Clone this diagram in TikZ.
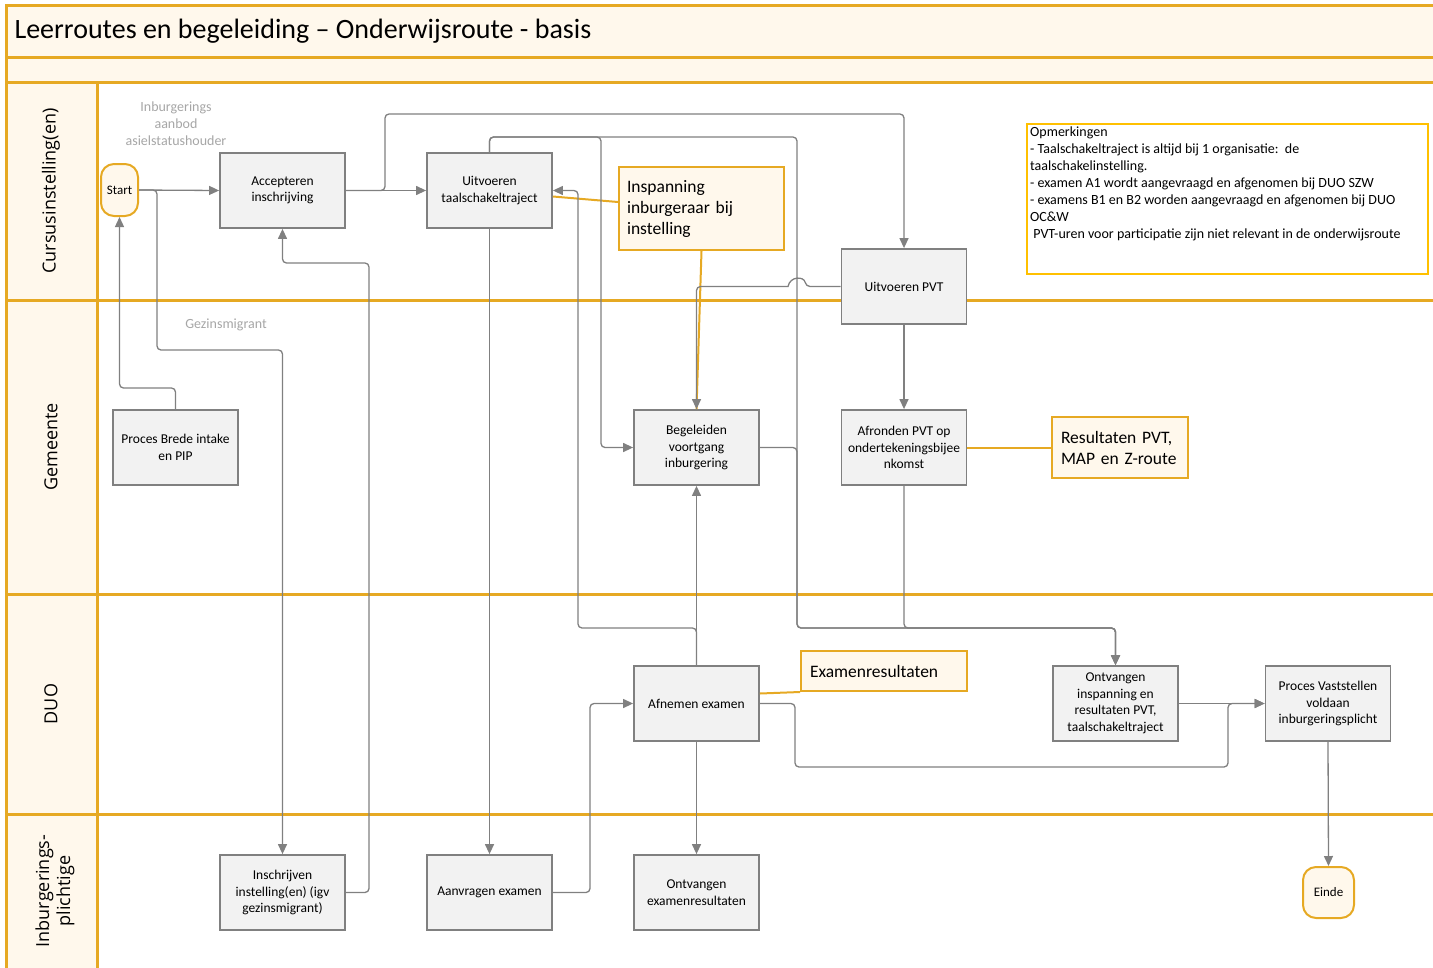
\documentclass[tikz,border=0pt]{standalone}
\usepackage{fontspec}
\setmainfont{Carlito}
\newfontfamily\lanefont{Open Sans}
\usetikzlibrary{arrows.meta,positioning,calc}

\definecolor{laneorange}{HTML}{E6A923}
\definecolor{lanecream}{HTML}{FFF8EC}
\definecolor{boxgray}{HTML}{F2F2F2}
\definecolor{edgegray}{HTML}{808080}
\definecolor{notegold}{HTML}{FFC000}
\definecolor{labelgray}{HTML}{A6A6A6}

\begin{document}
\begin{tikzpicture}[x=1pt,y=-1pt,
    task/.style={draw=edgegray, line width=1.8pt, fill=boxgray, minimum width=125pt,
      minimum height=75pt, align=center, inner sep=2pt, font=\fontsize{13.5}{16.5}\selectfont},
    term/.style={draw=laneorange, line width=2pt, fill=lanecream, rounded corners=13pt,
      minimum height=52pt, inner sep=1pt, font=\fontsize{13}{15}\selectfont},
    annot/.style={draw=laneorange, line width=2pt, fill=lanecream, align=left,
      inner xsep=8pt, inner ysep=0pt, font=\fontsize{17.5}{21}\selectfont},
    flow/.style={draw=edgegray, line width=1.3pt, rounded corners=4pt,
      -{Triangle[length=10pt,width=9pt]}},
    link/.style={draw=laneorange, line width=2pt},
    tag/.style={text=labelgray, align=center, font=\fontsize{14}{17}\selectfont},
    lanelabel/.style={rotate=90, align=center, font=\lanefont\fontsize{18}{21}\selectfont}]
    \useasboundingbox (0,0) rectangle (1433,967);
    \clip (0,0) rectangle (1433,967);

    % pool and lanes
    \fill[lanecream] (6,5) rectangle (1440,82);
    \fill[lanecream] (6,82) rectangle (97,970);
    \draw[laneorange, line width=3pt] (1440,5) -- (6,5) -- (6,970);
    \draw[laneorange, line width=3pt] (97,82) -- (97,970);
    \foreach \y in {57,82,300,594,814}
        \draw[laneorange, line width=3pt] (6,\y) -- (1440,\y);
    \node[anchor=west, font=\fontsize{28}{32}\selectfont] (title) at (11,31)
        {Leerroutes en begeleiding -- Onderwijsroute - basis};
    \node[lanelabel] (lcurs) at (51,191) {Cursusinstelling(en)};
    \node[lanelabel] (lgem) at (51,447) {Gemeente};
    \node[lanelabel] (lduo) at (51,704) {DUO};
    \node[lanelabel] (lplicht) at (55,891) {Inburgerings-\\plichtige};

    % Cursusinstelling(en)
    \node[term, minimum width=37pt] (start) at (119.5,190) {Start};
    \node[task] (accept) at (282.5,190.5) {Accepteren\\inschrijving};
    \node[task] (taal) at (489.5,190.5) {Uitvoeren\\taalschakeltraject};
    \node[annot, text width=149pt, minimum height=83pt] (inspan) at (701.5,208.5)
        {Inspanning\\inburgeraar bij\\instelling};
    \node[task] (pvt) at (904,286.5) {Uitvoeren PVT};
    \node[draw=notegold, line width=2pt, fill=white, minimum width=401pt,
        minimum height=150pt] (notes) at (1227.5,199) {};
    \node[anchor=north west, align=left, inner sep=0pt, font=\fontsize{14}{17}\selectfont]
        (notestext) at ([xshift=4pt,yshift=-4pt]notes.north west)
        {Opmerkingen\\
         - Taalschakeltraject is altijd bij 1 organisatie:\ \ de\\
         taalschakelinstelling.\\
         - examen A1 wordt aangevraagd en afgenomen bij DUO SZW\\
         - examens B1 en B2 worden aangevraagd en afgenomen bij DUO\\
         OC\&W\\
         \ PVT-uren voor participatie zijn niet relevant in de onderwijsroute};
    \node[tag] (aanbod) at (176,124) {Inburgerings\\aanbod\\asielstatushouder};

    % Gemeente
    \node[task] (intake) at (175.5,447.5) {Proces Brede intake\\en PIP};
    \node[task] (begel) at (696.5,447.5) {Begeleiden\\voortgang\\inburgering};
    \node[task] (afrond) at (904,447.5) {Afronden PVT op\\ondertekeningsbijee\\nkomst};
    \node[annot, inner xsep=9pt, text width=118pt, minimum height=61pt] (result) at (1120,447.5)
        {Resultaten PVT,\\MAP en Z-route};
    \node[tag] (gezin) at (226,325) {Gezinsmigrant};

    % DUO
    \node[task] (afnem) at (696.5,703.5) {Afnemen examen};
    \node[annot, inner xsep=9pt, text width=148pt, minimum height=40pt] (examres) at (884,671)
        {Examenresultaten};
    \node[task] (ontvinsp) at (1115.5,703.5)
        {Ontvangen\\inspanning en\\resultaten PVT,\\taalschakeltraject};
    \node[task] (vastst) at (1328,703.5) {Proces Vaststellen\\voldaan\\inburgeringsplicht};

    % Inburgeringsplichtige
    \node[task] (inschr) at (282.5,892.5) {Inschrijven\\instelling(en) (igv\\gezinsmigrant)};
    \node[task] (aanvr) at (489.5,892.5) {Aanvragen examen};
    \node[task] (ontvex) at (696.5,892.5) {Ontvangen\\examenresultaten};
    \node[term, minimum width=51pt, minimum height=51pt] (einde) at (1328.5,892.5) {Einde};

    % annotation links
    \draw[link] ([yshift=6.5pt]inspan.west) -- ([yshift=-6pt]taal.east);
    \draw[link] (inspan.south) -- (begel.north);
    \draw[link] (result.west) -- (afrond.east);
    \draw[link] (examres.south west) -- ([yshift=10pt]afnem.east);

    % flows
    \draw[flow] (start.east) -- (accept.west);
    \draw[flow] (start.east) -- (157,190) -- (157,350) -| (inschr.north);
    \draw[flow] (intake.north) -- (175.5,388) -| (start.south);
    \draw[flow] (inschr.east) -- (369,892.5) -- (369,263) -| (accept.south);
    \draw[flow] (accept.east) -- (taal.west);
    \draw[flow] (accept.east) -- (385,190.5) -- (385,114) -| (pvt.north);
    \draw[flow] (taal.south) -- (aanvr.north);
    \draw[flow] (taal.north) -- (489.5,137) -| (601,447.5) -- (begel.west);
    \draw[flow] (taal.north) -- (489.5,137) -| (797,628) -| (ontvinsp.north);
    \draw[flow] (begel.east) -- (797,447.5) -- (797,628) -| (ontvinsp.north);
    \draw[flow] (afrond.south) -- (904,628) -| (ontvinsp.north);
    \draw[flow] (pvt.west) -- (806,286.5) [sharp corners] .. controls (804,276) and (790,276) .. (788,286.5)
        [rounded corners=4pt] -- (696.5,286.5) -- (begel.north);
    \draw[flow] (pvt.south) -- (afrond.north);
    \draw[flow] (afnem.north) -- (begel.south);
    \draw[flow] (afnem.north) -- (696.5,628) -| (578,190.5) -- (taal.east);
    \draw[flow] (afnem.south) -- (ontvex.north);
    \draw[flow] (aanvr.east) -- (590,892.5) |- (afnem.west);
    \draw[flow] (afnem.east) -- (795,703.5) |- (1228,767) |- (vastst.west);
    \draw[flow] (ontvinsp.east) -- (vastst.west);
    \draw[flow] (vastst.south) -- (einde.north);
\end{tikzpicture}
\end{document}
